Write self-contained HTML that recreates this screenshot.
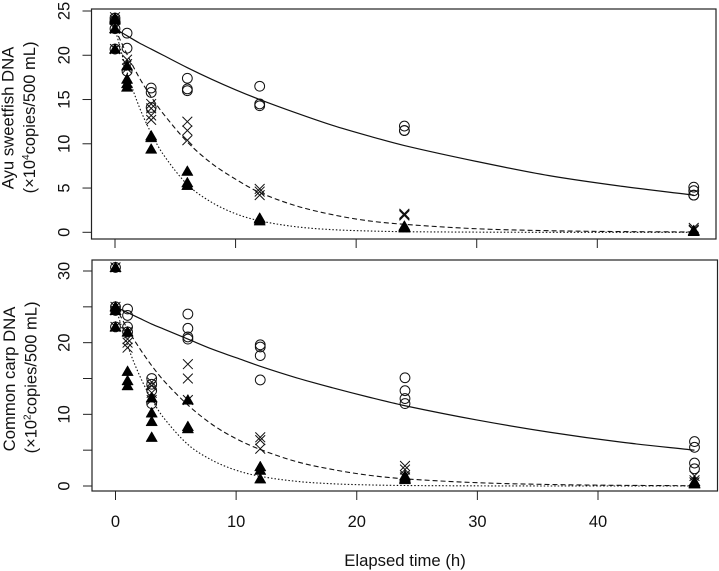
<!DOCTYPE html>
<html>
<head>
<meta charset="utf-8">
<style>
html,body{margin:0;padding:0;background:#fff;}
svg{display:block;font-family:"Liberation Sans",sans-serif;}
</style>
</head>
<body>
<svg id="chart" xmlns="http://www.w3.org/2000/svg" width="719" height="571" viewBox="0 0 719 571">
<g>
<text transform="translate(13.5,118) rotate(-90)" text-anchor="middle" font-size="16.7" fill="#111">Ayu sweetfish DNA</text>
<text transform="translate(35,117.5) rotate(-90)" text-anchor="middle" font-size="16.5" fill="#111">(×10<tspan font-size="10" dy="-6">4</tspan><tspan dy="6">copies/500 mL)</tspan></text>
</g>
<g>
<text transform="translate(15,379) rotate(-90)" text-anchor="middle" font-size="16.7" fill="#111">Common carp DNA</text>
<text transform="translate(36.5,377.5) rotate(-90)" text-anchor="middle" font-size="16.5" fill="#111">(×10<tspan font-size="10" dy="-6">2</tspan><tspan dy="6">copies/500 mL)</tspan></text>
</g>
<text x="405" y="566" text-anchor="middle" font-size="16.7" fill="#111">Elapsed time (h)</text>
</svg>
<script>
const xTicks = [0, 10, 20, 30, 40];
const topYTicks = [0, 5, 10, 15, 20, 25];
const bottomYTicks = [0, 5, 10, 15, 20, 25, 30];
const bottomYLabels = ['0', '', '10', '', '20', '', '30'];

const curveTimes = [0, 1, 2, 3, 4, 6, 8, 10, 12, 15, 18, 21, 24, 30, 36, 42, 48];
const topSolid = [23, 22.2, 21.4, 20.7, 20, 18.6, 17.3, 16.1, 15, 13.5, 12.1, 10.9, 9.8, 8, 6.4, 5.2, 4.2];
const topDashed = [23, 20.1, 17.5, 15.3, 13.4, 10.2, 7.8, 6, 4.5, 3, 2, 1.3, 0.9, 0.4, 0.18, 0.08, 0.04];
const topDotted = [23, 18.1, 14.2, 11.2, 8.8, 5.4, 3.4, 2.1, 1.3, 0.63, 0.3, 0.15, 0.07, 0.02, 0, 0, 0];
const bottomSolid = [25, 24.2, 23.4, 22.6, 21.9, 20.5, 19.1, 17.9, 16.7, 15.1, 13.7, 12.4, 11.2, 9.2, 7.5, 6.1, 5];
const bottomDashed = [25, 21.9, 19.2, 16.8, 14.7, 11.3, 8.6, 6.6, 5.1, 3.4, 2.3, 1.5, 1, 0.46, 0.21, 0.09, 0.04];
const bottomDotted = [25, 19.6, 15.4, 12.1, 9.5, 5.8, 3.6, 2.2, 1.35, 0.65, 0.31, 0.15, 0.07, 0.02, 0, 0, 0];

const sampleTimes = [0, 1, 3, 6, 12, 24, 48];
const topCircles = [[24.2, 23.9, 23, 20.7], [22.5, 20.8, 18.2], [16.3, 15.8, 14.1], [17.4, 16.2, 16], [16.5, 14.5, 14.3], [12, 11.5, 11.5], [5.1, 4.7, 4.2, 4.2]];
const topCrosses = [[24.3, 24, 23, 20.7], [19.5, 19, 18.5], [14.5, 14, 13.2, 12.7], [12.5, 11.5, 10.4], [4.9, 4.6, 4.2], [2.1, 2, 1.9], [0.5, 0.3, 0.2]];
const topTriangles = [[24.2, 24, 23, 20.7], [18.8, 17.3, 16.8, 16.4], [10.9, 10.7, 9.4], [6.9, 5.6, 5.3], [1.6, 1.5, 1.3], [0.7, 0.6, 0.5], [0.2, 0.1, 0.1]];
const bottomCircles = [[30.5, 25, 24.5, 22.2], [24.7, 23.8, 22.2, 21.5], [15, 14.2, 13.3, 11.5], [24, 22, 20.8, 20.5], [19.7, 19.4, 18.2, 14.8], [15.1, 13.3, 12.2, 11.5], [6.2, 5.4, 3.2, 2.4]];
const bottomCrosses = [[30.5, 25, 24.5, 22.2], [21.5, 20.5, 20, 19.3], [14.5, 14, 13, 12], [17, 15, 12], [6.8, 6.4, 5.2], [2.8, 2.3, 1.5, 1.2], [1.4, 0.8, 0.5]];
const bottomTriangles = [[30.5, 25, 24.5, 22.2], [21.5, 16, 14.7, 14], [12.3, 10.2, 9, 6.8], [12, 8.3, 8], [2.7, 2.2, 1], [1.4, 1.1, 0.9], [0.6, 0.4, 0.3]];

const svg = document.getElementById('chart');
const NS = 'http://www.w3.org/2000/svg';
function mk(tag, attrs, parent) {
  const el = document.createElementNS(NS, tag);
  for (const k in attrs) el.setAttribute(k, attrs[k]);
  parent.appendChild(el);
  return el;
}
function scale(d0, d1, r0, r1) {
  return v => r0 + (v - d0) * (r1 - r0) / (d1 - d0);
}
function smoothPath(pts) {
  let d = 'M' + pts[0][0].toFixed(2) + ' ' + pts[0][1].toFixed(2);
  for (let i = 0; i < pts.length - 1; i++) {
    const p0 = pts[Math.max(i - 1, 0)], p1 = pts[i], p2 = pts[i + 1], p3 = pts[Math.min(i + 2, pts.length - 1)];
    const h = p2[0] - p1[0];
    const s1 = (p2[1] - p0[1]) / ((p2[0] - p0[0]) || 1);
    const s2 = (p3[1] - p1[1]) / ((p3[0] - p1[0]) || 1);
    d += 'C' + (p1[0] + h / 3).toFixed(2) + ' ' + (p1[1] + s1 * h / 3).toFixed(2) + ' ' +
      (p2[0] - h / 3).toFixed(2) + ' ' + (p2[1] - s2 * h / 3).toFixed(2) + ' ' +
      p2[0].toFixed(2) + ' ' + p2[1].toFixed(2);
  }
  return d;
}
function drawPanel(cfg) {
  const g = mk('g', {}, svg);
  
  
  const x = scale(0, 40, cfg.x0, cfg.x40);
  const y = scale(0, cfg.yRefVal, cfg.y0, cfg.yRefPx);
  const box = mk('rect', {x: cfg.left, y: cfg.top, width: cfg.right - cfg.left, height: cfg.bottom - cfg.top, fill: 'none', stroke: '#222', 'stroke-width': 1.2}, g);
  
  
  xTicks.forEach(t => {
    const tick = mk('line', {x1: x(t), x2: x(t), y1: cfg.bottom, y2: cfg.bottom + 9, stroke: '#222', 'stroke-width': 1}, g);
    
    
    if (cfg.showXLabels) {
      const lab = mk('text', {x: x(t), y: cfg.bottom + 36, 'text-anchor': 'middle', 'font-size': 16.5, fill: '#111'}, g);
      lab.textContent = String(t);
      
      
    }
  });
  cfg.yTicks.forEach((v, i) => {
    const tick = mk('line', {x1: cfg.left - 9, x2: cfg.left, y1: y(v), y2: y(v), stroke: '#222', 'stroke-width': 1}, g);
    
    
    const text = cfg.yLabels ? cfg.yLabels[i] : String(v);
    if (text) {
      const lab = mk('text', {transform: 'translate(69.5,' + y(v) + ') rotate(-90)', 'text-anchor': 'middle', 'font-size': 16.5, fill: '#111'}, g);
      lab.textContent = text;
      
      
    }
  });
  cfg.curves.forEach(c => {
    const pts = curveTimes.map((t, i) => [x(t), y(c.values[i])]);
    const attrs = {d: smoothPath(pts), fill: 'none', stroke: '#111', 'stroke-width': c.width};
    if (c.dash) attrs['stroke-dasharray'] = c.dash;
    const line = mk('path', attrs, g);
    
    
  });
  sampleTimes.forEach((t, i) => {
    const px = x(t);
    cfg.circles[i].forEach(v => {
      const m = mk('circle', {cx: px, cy: y(v), r: 4.9, fill: 'none', stroke: '#111', 'stroke-width': 1}, g);
      
      
    });
    cfg.crosses[i].forEach(v => {
      const py = y(v), s = 4.9;
      const m = mk('path', {d: 'M' + (px - s) + ' ' + (py - s) + 'L' + (px + s) + ' ' + (py + s) + 'M' + (px - s) + ' ' + (py + s) + 'L' + (px + s) + ' ' + (py - s), fill: 'none', stroke: '#111', 'stroke-width': 1}, g);
      
      
    });
    cfg.triangles[i].forEach(v => {
      const py = y(v);
      const m = mk('path', {d: 'M' + px + ' ' + (py - 5.6) + 'L' + (px + 5.7) + ' ' + (py + 4.3) + 'L' + (px - 5.7) + ' ' + (py + 4.3) + 'Z', fill: '#000', stroke: '#000', 'stroke-width': 0.5}, g);
      
      
    });
  });
}
drawPanel({
  name: 'ayu', left: 91.5, right: 716, top: 9, bottom: 239,
  x0: 115, x40: 597.3, y0: 232.3, yRefVal: 25, yRefPx: 11,
  yTicks: topYTicks, showXLabels: false,
  curves: [
    {label: 'solid', values: topSolid, width: 1.2},
    {label: 'dashed', values: topDashed, width: 1.1, dash: '5 3'},
    {label: 'dotted', values: topDotted, width: 1.1, dash: '1.5 2'}
  ],
  circles: topCircles, crosses: topCrosses, triangles: topTriangles
});
drawPanel({
  name: 'carp', left: 92, right: 717.5, top: 260, bottom: 491,
  x0: 115.5, x40: 598, y0: 486, yRefVal: 30, yRefPx: 271,
  yTicks: bottomYTicks, yLabels: bottomYLabels, showXLabels: true,
  curves: [
    {label: 'solid', values: bottomSolid, width: 1.2},
    {label: 'dashed', values: bottomDashed, width: 1.1, dash: '5 3'},
    {label: 'dotted', values: bottomDotted, width: 1.1, dash: '1.5 2'}
  ],
  circles: bottomCircles, crosses: bottomCrosses, triangles: bottomTriangles
});
</script>
</body>
</html>
